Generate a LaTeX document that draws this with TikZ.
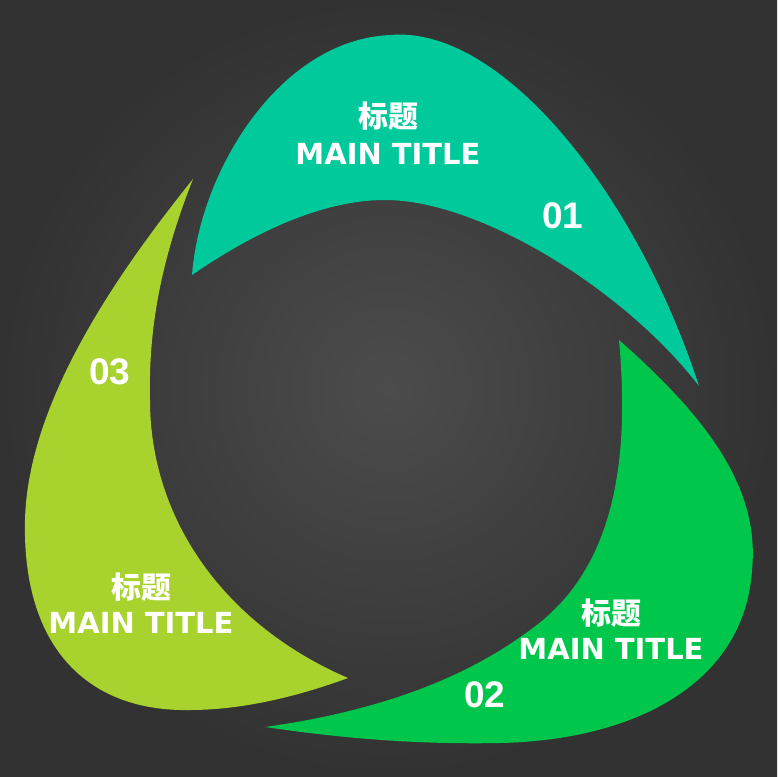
\documentclass[tikz,border=0pt]{standalone}
\usepackage{fontspec}
\newfontfamily\cjk{Noto Sans CJK SC}
\newfontfamily\latinfont{DejaVu Sans}
\newfontfamily\numfont{Liberation Sans}
\definecolor{bgmid}{RGB}{76,76,76}
\definecolor{bgedge}{RGB}{50,50,50}
\definecolor{petalone}{RGB}{0,201,155}
\definecolor{petaltwo}{RGB}{0,198,76}
\definecolor{petalthree}{RGB}{168,210,46}
\begin{document}
\begin{tikzpicture}
  [x=1pt,y=-1pt,every node/.style={text=white,inner sep=0pt}]
  \tikzstyle{title} = [font=\cjk\bfseries\fontsize{30}{30}\selectfont]
  \tikzstyle{subtitle} = [font=\latinfont\bfseries\fontsize{29}{29}\selectfont]
  \tikzstyle{number} = [font=\numfont\bfseries\fontsize{37}{37}\selectfont]
  \shade[inner color=bgmid,outer color=bgedge] (0,0) rectangle (777,777);
  \useasboundingbox (0,0) rectangle (777,777);
  % petal 01
  \fill[petalone] (192,275) .. controls (200,170) and (280,40) .. (390,35)
    .. controls (500,25) and (635,190) .. (699,386)
    .. controls (625,290) and (480,200) .. (385,200)
    .. controls (320,200) and (250,235) .. cycle;
  % petal 02
  \fill[petaltwo] (619,340) .. controls (710,420) and (760,490) .. (752,570)
    .. controls (745,680) and (640,740) .. (500,743)
    .. controls (400,745) and (320,735) .. (265,727)
    .. controls (350,715) and (450,690) .. (530,630)
    .. controls (615,570) and (630,460) .. cycle;
  % petal 03
  \fill[petalthree] (193,179) .. controls (120,270) and (28,400) .. (25,520)
    .. controls (22,650) and (90,712) .. (190,710)
    .. controls (250,710) and (310,692) .. (348,678)
    .. controls (225,625) and (150,520) .. (150,400)
    .. controls (148,320) and (165,250) .. cycle;
  \foreach \name/\x/\y/\num in {p1/563/216/01,p2/485/695/02,p3/110/372/03}
    \node[number] (\name) at (\x,\y) {\num};
  \foreach \name/\x/\y in {h1/388/116,h2/611/613,h3/141/587}
    \node[title] (\name) at (\x,\y) {标题};
  \foreach \name/\x/\y in {m1/388/154,m2/611/649,m3/141/623}
    \node[subtitle] (\name) at (\x,\y) {MAIN TITLE};
\end{tikzpicture}
\end{document}
